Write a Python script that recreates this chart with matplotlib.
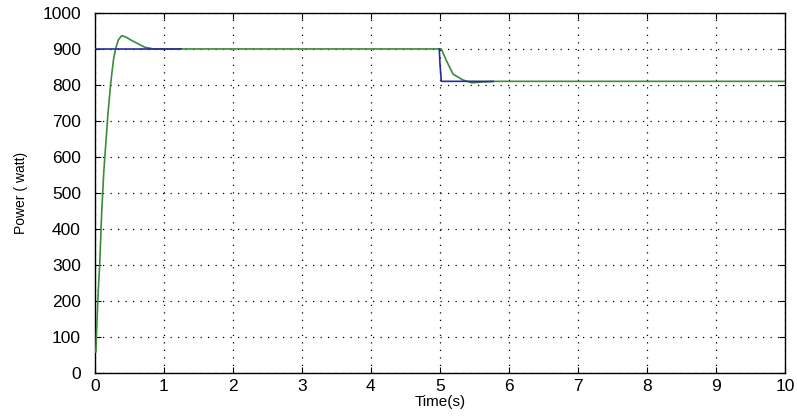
import numpy as np
import matplotlib
matplotlib.use('Agg')
import matplotlib.pyplot as plt

# reference power (blue), two visible pieces
ref_t1 = [0, 1.25]
ref_p1 = [900, 900]
ref_t2 = [4.99, 5.0, 5.02, 5.77]
ref_p2 = [900, 860, 810, 810]

# measured power (green)
out_t = [0.0, 0.015, 0.03, 0.05, 0.07, 0.10, 0.13, 0.16, 0.19, 0.23, 0.27, 0.30, 0.34, 0.39,
         0.45, 0.52, 0.62, 0.72, 0.85, 1.0, 4.99, 5.02, 5.09, 5.19, 5.33, 5.46, 5.6, 5.8, 10.0]
out_p = [60, 58, 140, 230, 300, 450, 560, 640, 720, 805, 870, 900, 925, 937,
         933, 925, 915, 905, 900, 900, 900, 900, 869, 830, 814, 806, 808, 810, 810]

plt.rcParams['font.family'] = ['Liberation Sans', 'DejaVu Sans']

fig = plt.figure(figsize=(7.97, 4.17), dpi=100)
ax = fig.add_axes([0.119, 0.1055, 0.866, 0.8635])

ax.plot(out_t, out_p, color='#3a8c3a', linewidth=1.2, zorder=3)
ax.plot(ref_t1, ref_p1, color='#2a2a9a', linewidth=1.2, zorder=4)
ax.plot(ref_t2, ref_p2, color='#2a2a9a', linewidth=1.2, zorder=4)

ax.set_xlim(0, 10)
ax.set_ylim(0, 1000)
ax.set_xticks(range(0, 11))
ax.set_yticks(range(0, 1001, 100))
ax.grid(True, color='black', linestyle=(0, (1, 5)), linewidth=0.9)
ax.tick_params(direction='in', top=True, right=True, labelsize=12.5, length=4)
ax.tick_params(axis='y', pad=10)
ax.tick_params(axis='x', pad=4)
for s in ax.spines.values():
    s.set_linewidth(1.0)

ax.set_xlabel('Time(s)', fontsize=11, labelpad=1)
ax.set_ylabel('Power ( watt)', fontsize=10, labelpad=10)

fig.savefig('out.png', dpi=100)
